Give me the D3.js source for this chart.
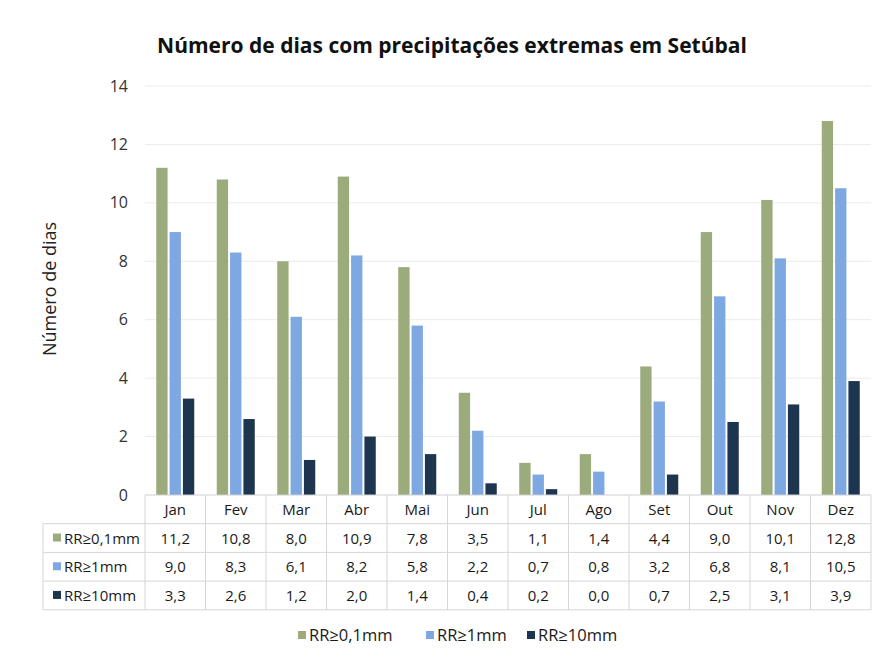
<!DOCTYPE html>
<html><head><meta charset="utf-8">
<script src="https://cdn.jsdelivr.net/npm/d3@7"></script>
<style>body{margin:0;background:#fff;}svg{font-family:"Open Sans",sans-serif;}</style>
</head><body><svg id="c" width="888" height="658"></svg>
<script>
const months = ["Jan","Fev","Mar","Abr","Mai","Jun","Jul","Ago","Set","Out","Nov","Dez"];
const seriesNames = ["RR≥0,1mm","RR≥1mm","RR≥10mm"];
const rr01 = [11.2,10.8,8.0,10.9,7.8,3.5,1.1,1.4,4.4,9.0,10.1,12.8];
const rr1  = [9.0,8.3,6.1,8.2,5.8,2.2,0.7,0.8,3.2,6.8,8.1,10.5];
const rr10 = [3.3,2.6,1.2,2.0,1.4,0.4,0.2,0.0,0.7,2.5,3.1,3.9];
const yTicks = [0,2,4,6,8,10,12,14];
const colors = ["#9bab7c","#7ea8e2","#1e3550"];
const series = [rr01, rr1, rr10];

(function(){
const svg = d3.select("#c");
const pLeft = 145, pRight = 871, pTop = 86, pBottom = 495;
const x = d3.scaleBand().domain(months).range([pLeft, pRight]);
const y = d3.scaleLinear().domain([0,14]).range([pBottom, pTop]);
const x1 = d3.scaleBand().domain([0,1,2]).range([-19, 19]).paddingInner(0.15);

svg.append("text").attr("x", 452).attr("y", 53).attr("text-anchor","middle")
  .attr("font-size", 21).attr("font-weight","bold").attr("fill","#111")
  .text("Número de dias com precipitações extremas em Setúbal");

svg.append("g").selectAll("line").data(yTicks.filter(d=>d>0)).join("line")
  .attr("x1", pLeft).attr("x2", pRight).attr("y1", d=>y(d)).attr("y2", d=>y(d))
  .attr("stroke","#ebebeb").attr("stroke-width",1);

const yAxis = d3.axisLeft(y).tickValues(yTicks).tickSize(0).tickPadding(0).tickFormat(d3.format("d"));
const ya = svg.append("g").attr("transform", `translate(128,0)`).call(yAxis);
ya.select(".domain").remove();
ya.selectAll("text").attr("font-size", 16).attr("fill","#333").attr("font-family","Open Sans, sans-serif");

svg.append("text").attr("transform","translate(56,289) rotate(-90)").attr("text-anchor","middle")
  .attr("font-size", 18).attr("fill","#222").text("Número de dias");

series.forEach((s, si) => {
  svg.append("g").selectAll("rect").data(s).join("rect")
    .attr("x", (d,i) => x(months[i]) + x.bandwidth()/2 + x1(si))
    .attr("width", x1.bandwidth())
    .attr("y", d => y(d)).attr("height", d => y(0) - y(d))
    .attr("fill", colors[si]);
});

const rowH = 28.7;
const tableTop = pBottom;
const tableLeft = 43;
const g = svg.append("g");
const lineColor = "#d6d6d6";
[0,1,2,3,4].forEach(r => {
  g.append("line").attr("x1", r===0 ? pLeft : tableLeft).attr("x2", pRight)
    .attr("y1", tableTop + r*rowH).attr("y2", tableTop + r*rowH)
    .attr("stroke", r===0 ? "#cfcfcf" : lineColor);
});
months.forEach((m,i) => {
  g.append("line").attr("x1", x(m)).attr("x2", x(m)).attr("y1", tableTop).attr("y2", tableTop+4*rowH).attr("stroke", lineColor);
});
g.append("line").attr("x1", pRight).attr("x2", pRight).attr("y1", tableTop).attr("y2", tableTop+4*rowH).attr("stroke", lineColor);
g.append("line").attr("x1", tableLeft).attr("x2", tableLeft).attr("y1", tableTop+rowH).attr("y2", tableTop+4*rowH).attr("stroke", lineColor);

g.selectAll("text.h").data(months).join("text").attr("class","h")
  .attr("x", d => x(d)+x.bandwidth()/2).attr("y", tableTop + rowH/2 + 5.5)
  .attr("text-anchor","middle").attr("font-size", 15).attr("fill","#1a1a1a").text(d=>d);

const fmt = v => v.toFixed(1).replace(".", ",");
series.forEach((s, si) => {
  const cy = tableTop + (si+1)*rowH + rowH/2 + 5.5;
  g.append("g").selectAll("text").data(s).join("text")
    .attr("x", (d,i) => x(months[i]) + x.bandwidth()/2).attr("y", cy)
    .attr("text-anchor","middle").attr("font-size", 15).attr("fill","#1a1a1a").text(fmt);
  g.append("rect").attr("x", tableLeft+10).attr("y", cy-10).attr("width", 8).attr("height", 8).attr("fill", colors[si]);
  g.append("text").attr("x", tableLeft+21).attr("y", cy).attr("font-size", 15).attr("fill","#1a1a1a").text(seriesNames[si]);
});

const legX = [298, 426, 527];
seriesNames.forEach((n, i) => {
  svg.append("rect").attr("x", legX[i]).attr("y", 631).attr("width", 8).attr("height", 8).attr("fill", colors[i]);
  svg.append("text").attr("x", legX[i]+11).attr("y", 641).attr("font-size", 16.5).attr("fill","#1a1a1a").text(n);
});
})();
</script></body></html>
